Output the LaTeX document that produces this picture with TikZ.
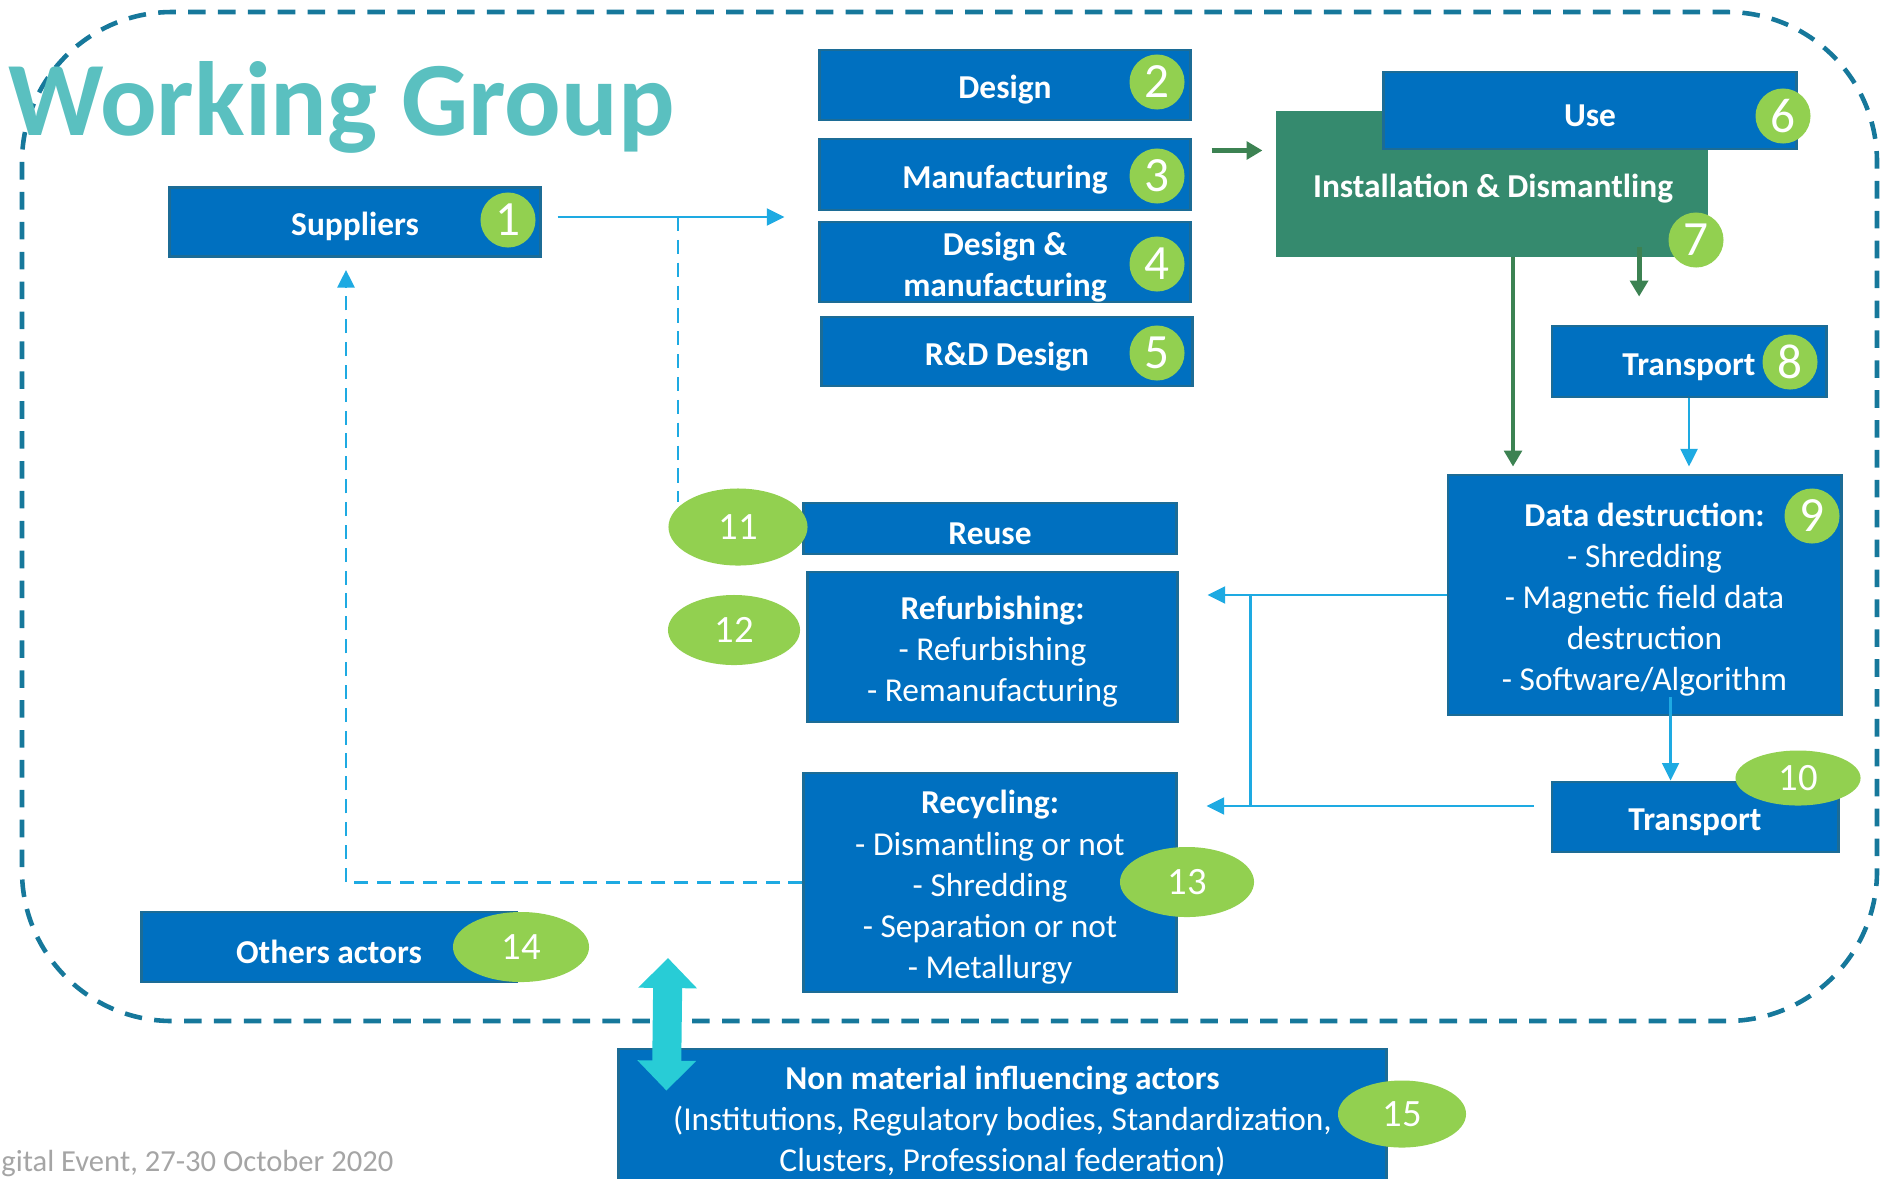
\documentclass[tikz,border=0pt]{standalone}
\usepackage{fontspec}
\setmainfont{Carlito}
\usepackage{tikz}
\usetikzlibrary{arrows.meta,shapes.geometric}

\definecolor{boxblue}{RGB}{0,112,192}
\definecolor{boxedge}{RGB}{28,108,150}
\definecolor{badgegreen}{RGB}{146,208,80}
\definecolor{instgreen}{RGB}{53,138,110}
\definecolor{arrowgreen}{RGB}{60,130,82}
\definecolor{linkblue}{RGB}{30,170,226}
\definecolor{borderteal}{RGB}{22,120,155}
\definecolor{titleteal}{RGB}{90,192,192}
\definecolor{bothcyan}{RGB}{40,204,214}
\definecolor{footgray}{RGB}{165,165,165}

\newcommand{\lineup}{\rule{0pt}{9.4pt}}

\begin{document}
\begin{tikzpicture}[x=0.01cm,y=-0.01cm,
  stage/.style={draw=boxedge,line width=0.8pt,fill=boxblue,text=white,inner sep=0pt,
    align=center,font=\fontsize{9.5}{11.7}\selectfont\bfseries,
    execute at begin node={\lineup}},
  stagelist/.style={stage,font=\fontsize{9.5}{11.7}\selectfont},
  badge/.style={circle,fill=badgegreen,text=white,inner sep=0pt,minimum size=0.55cm,
    font=\fontsize{14}{14}\selectfont},
  badgewide/.style={ellipse,fill=badgegreen,text=white,inner sep=0pt,
    font=\fontsize{11}{11}\selectfont},
  flow/.style={linkblue,line width=0.7pt,-{Triangle[length=5pt,width=4.8pt]}},
  bluedash/.style={linkblue,line width=0.8pt,dash pattern=on 4pt off 2.5pt},
  greenflow/.style={arrowgreen,line width=1.4pt,-{Triangle[length=4.5pt,width=5pt]}}]
\useasboundingbox (0,0) rectangle (1882,1178);
% outside dashed lines
\draw[borderteal,line width=1.3pt,dash pattern=on 5pt off 3.5pt,rounded corners=1.5cm] (22,12) rectangle (1877,1021);
% title
\node[anchor=base west,text=titleteal,font=\fontsize{30}{30}\selectfont\bfseries,inner sep=0pt] (title) at (8,135) {Working Group};
\node[anchor=base east,text=footgray,font=\fontsize{8.7}{8.7}\selectfont,inner sep=0pt] (footer) at (394,1171) {gital Event, 27-30 October 2020};
% left column
\node[stage,minimum width=3.7cm,minimum height=0.69cm] (supp) at (355,222) {Suppliers};
\node[stage,minimum width=3.74cm,minimum height=0.7cm] (others) at (329,947) {Others actors};
% design boxes
\node[stage,minimum width=3.7cm,minimum height=0.7cm] (design) at (1005,85) {Design};
\node[stage,minimum width=3.7cm,minimum height=0.71cm] (manuf) at (1005,174.5) {Manufacturing};
\node[stage,minimum width=3.7cm,minimum height=0.78cm] (dman) at (1005,262) {\lineup Design \&\\manufacturing};
\node[stage,minimum width=3.7cm,minimum height=0.69cm] (rnd) at (1007,351.5) {R\&D Design};
% use and installation
\node[stage,fill=instgreen,draw=instgreen,minimum width=4.28cm,minimum height=1.44cm] (inst) at (1492,184) {};
\node[text=white,font=\fontsize{9.5}{11.7}\selectfont\bfseries,inner sep=0pt] (instlbl) at (1493,189) {Installation \& Dismantling};
\node[stage,minimum width=4.12cm,minimum height=0.77cm] (use) at (1590,110.5) {Use};
% right column
\node[stage,minimum width=2.74cm,minimum height=0.71cm] (trans8) at (1689,361.5) {Transport};
\node[stagelist,minimum width=3.93cm,minimum height=2.4cm] (datadest) at (1644.5,595) {\lineup\textbf{Data destruction:}\\- Shredding\\- Magnetic field data\\destruction\\- Software/Algorithm};
\node[stage,minimum width=2.86cm,minimum height=0.7cm] (trans10) at (1695,817) {Transport};
% end of life boxes
\node[stage,minimum width=3.72cm,minimum height=0.51cm] (reuse) at (990,528.5) {Reuse};
\node[stagelist,minimum width=3.69cm,minimum height=1.5cm] (refurb) at (992.5,647) {\lineup\textbf{Refurbishing:}\\- Refurbishing\\- Remanufacturing};
\node[stagelist,minimum width=3.72cm,minimum height=2.19cm] (recyc) at (990,882.5) {\lineup\textbf{Recycling:}\\- Dismantling or not\\- Shredding\\- Separation or not\\- Metallurgy};
% bottom box
\node[stagelist,minimum width=7.67cm,minimum height=1.34cm] (nonmat) at (1002.5,1116) {\lineup\textbf{Non material influencing actors}\\(Institutions, Regulatory bodies, Standardization,\\Clusters, Professional federation)};
% blue connectors
\coordinate (suppout) at ([xshift=0.16cm,yshift=0.05cm]supp.east);
\coordinate (split) at (678,217);
\draw[flow] (suppout) -- ([xshift=-0.34cm]manuf.west |- suppout);
\draw[bluedash] (split) -- (split |- reuse.north);
\draw[bluedash,-{Triangle[length=5pt,width=4.8pt]}] (recyc.west) -| ([xshift=-0.09cm,yshift=-0.12cm]supp.south);
\draw[flow] (trans8.south) -- ([yshift=0.07cm]datadest.north -| trans8.south);
\coordinate (ddout) at ([xshift=0.26cm,yshift=0.19cm]datadest.south);
\draw[flow] (ddout) -- (trans10.north -| ddout);
\coordinate (junction) at ([xshift=-1.96cm]datadest.west);
\coordinate (t10out) at ([xshift=-0.17cm,yshift=0.11cm]trans10.west);
\draw[flow] (datadest.west) -- ([xshift=0.29cm]refurb.east |- datadest.west);
\draw[flow] (t10out) -- ([xshift=0.29cm]recyc.east |- t10out);
\draw[linkblue,line width=0.7pt] (junction) -- (junction |- t10out);
% green connectors
\coordinate (manout) at ([xshift=0.2cm,yshift=0.24cm]manuf.east);
\draw[greenflow] (manout) -- ([xshift=-0.14cm]inst.west |- manout);
\coordinate (instout) at ([xshift=1.47cm,yshift=0.1cm]inst.south);
\draw[greenflow] (instout) -- ([yshift=0.28cm]trans8.north -| instout);
\coordinate (instdown) at ([xshift=0.21cm]inst.south);
\draw[greenflow,line width=1pt] (instdown) -- ([yshift=0.07cm]datadest.north -| instdown);
% double arrow to non material actors
\coordinate (arrtop) at (668,958);
\draw[bothcyan,line width=0.29cm,{Triangle[length=0.3cm,width=0.57cm]}-{Triangle[length=0.3cm,width=0.57cm]}] (arrtop) -- ([xshift=0.49cm,yshift=-0.43cm]nonmat.north west);
% number badges
\node[badge] (b1) at (508,220) {1};
\node[badge] (b2) at (1157,82) {2};
\node[badge] (b3) at (1157,176) {3};
\node[badge] (b4) at (1157,264) {4};
\node[badge] (b5) at (1157,353) {5};
\node[badge] (b6) at (1783,116) {6};
\node[badge] (b7) at (1696,240) {7};
\node[badge] (b8) at (1790,362) {8};
\node[badge] (b9) at (1812,516) {9};
\node[badgewide,minimum width=1.25cm,minimum height=0.55cm] (b10) at (1798,778) {10};
\node[badgewide,minimum width=1.39cm,minimum height=0.77cm] (b11) at (738,527) {11};
\node[badgewide,minimum width=1.32cm,minimum height=0.7cm] (b12) at (734,630) {12};
\node[badgewide,minimum width=1.34cm,minimum height=0.7cm] (b13) at (1187,882) {13};
\node[badgewide,minimum width=1.36cm,minimum height=0.7cm] (b14) at (521,947) {14};
\node[badgewide,minimum width=1.28cm,minimum height=0.67cm] (b15) at (1402,1114) {15};
\end{tikzpicture}
\end{document}
